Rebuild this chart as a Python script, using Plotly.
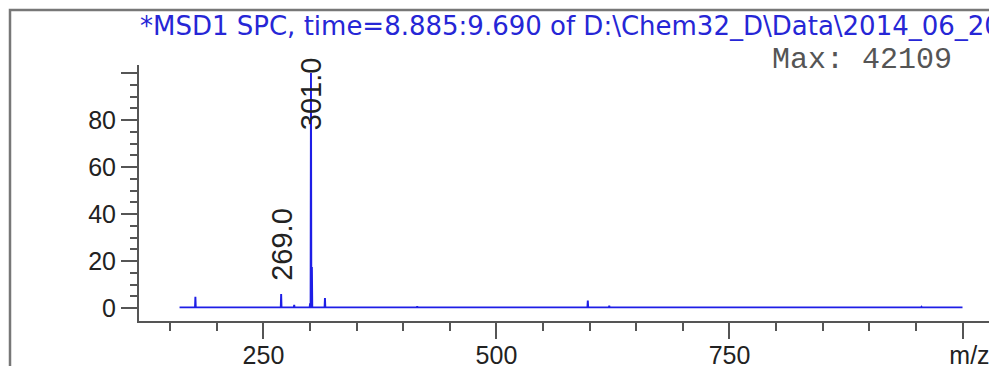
import plotly.graph_objects as go

# ---- data ----
peak_mz = [177.0, 269.0, 283.0, 300.0, 301.0, 302.0, 316.0, 415.0, 598.0, 621.0, 956.0]
peak_int = [4.8, 6.0, 1.3, 2.0, 100.0, 17.5, 4.3, 0.8, 3.2, 1.0, 0.5]
scan_start = 160.0
scan_end = 1000.0
baseline = 0.3
labelled_mz = [269.0, 301.0]
labelled_text = ["269.0", "301.0"]
labelled_pos = [10.6, 75.0]
x_major = [250, 500, 750, 1000]
x_major_text = ["250", "500", "750", "  m/z"]
x_minor = [150, 200, 300, 350, 400, 450, 550, 600, 650, 700, 800, 850, 900, 950]
y_major = [0, 20, 40, 60, 80, 100]
y_major_text = ["0", "20", "40", "60", "80", ""]
y_minor = [5, 10, 15, 25, 30, 35, 45, 50, 55, 65, 70, 75, 85, 90, 95]
title_text = "*MSD1 SPC, time=8.885:9.690 of D:\\Chem32_D\\Data\\2014_06_20"
max_text = "Max: 42109"

# ---- build the profile trace from the peak list ----
xs = [scan_start]
ys = [baseline]
for m, h in zip(peak_mz, peak_int):
    xs += [m - 0.4, m, m + 0.4]
    ys += [baseline, h, baseline]
xs.append(scan_end)
ys.append(baseline)

fig = go.Figure()
fig.add_trace(go.Scatter(x=xs, y=ys, mode="lines",
                         line=dict(color="#1e1ee6", width=1.9),
                         hoverinfo="skip", showlegend=False))

axis_col = "#555555"
lab_font = dict(family="Liberation Sans, Arial, sans-serif", size=25, color="#222222")

for m, t, p in zip(labelled_mz, labelled_text, labelled_pos):
    fig.add_annotation(x=m, y=p, xref="x", yref="y", text=t, showarrow=False,
                       textangle=-90, xanchor="center", yanchor="bottom",
                       font=dict(family="Liberation Sans, Arial, sans-serif", size=29, color="#222222"))

# the page body has an 8px default margin: lay the figure out in page pixels minus 8
OFF = 8
W, H = 997 - OFF, 366 - OFF
L, R, T, B = 139 - OFF, 0, 65 - OFF, 45
pw, ph = W - L - R, H - T - B

def px_x(p):
    return (p - OFF - L) / pw

def px_y(p):
    return 1 + (T - (p - OFF)) / ph

fig.add_annotation(x=px_x(138), y=px_y(26), xref="paper", yref="paper", text=title_text,
                   showarrow=False, xanchor="left", yanchor="middle",
                   font=dict(family="DejaVu Sans, sans-serif", size=26, color="#2626d6"))
fig.add_annotation(x=px_x(954), y=px_y(60), xref="paper", yref="paper", text=max_text,
                   showarrow=False, xanchor="right", yanchor="middle",
                   font=dict(family="Liberation Mono, Courier New, monospace", size=30, color="#555555"))

# outer frame (top and left edges visible)
fig.add_shape(type="rect", xref="paper", yref="paper",
              x0=px_x(10), x1=px_x(1100), y0=px_y(500), y1=px_y(10),
              line=dict(color="#777777", width=2.5), fillcolor="rgba(0,0,0,0)", layer="below")

fig.update_xaxes(range=[116.5, 1037], showgrid=False, zeroline=False, automargin=False,
                 showline=True, linecolor=axis_col, linewidth=2,
                 ticks="outside", ticklen=16, tickwidth=2, tickcolor=axis_col,
                 tickmode="array", tickvals=x_major, ticktext=x_major_text,
                 tickfont=lab_font, ticklabelstandoff=-5,
                 minor=dict(tickmode="array", tickvals=x_minor, ticks="outside",
                            ticklen=8, tickwidth=2, tickcolor=axis_col))
fig.update_yaxes(range=[-5.5, 103.4], showgrid=False, zeroline=False, automargin=False,
                 showline=True, linecolor=axis_col, linewidth=2,
                 ticks="outside", ticklen=16, tickwidth=2, tickcolor=axis_col,
                 tickmode="array", tickvals=y_major, ticktext=y_major_text,
                 tickfont=lab_font,
                 minor=dict(tickmode="array", tickvals=y_minor, ticks="outside",
                            ticklen=7, tickwidth=2, tickcolor=axis_col))

fig.update_layout(width=W, height=H, autosize=False,
                  margin=dict(l=L, r=R, t=T, b=B),
                  paper_bgcolor="white", plot_bgcolor="white",
                  showlegend=False)

fig.write_html("out.html")
